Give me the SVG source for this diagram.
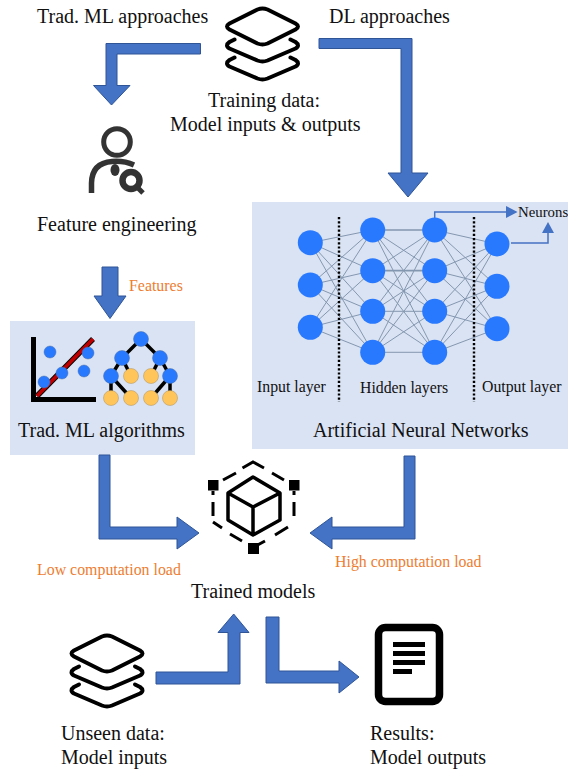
<svg xmlns="http://www.w3.org/2000/svg" width="568" height="769" viewBox="0 0 568 769">
<style>
text{font-family:"Liberation Serif","Times New Roman",serif;fill:#111}
.t{font-size:20px}
.s{font-size:15.8px}
.nl{font-size:14.8px}
.o{font-size:15.9px;fill:#ED7D31}
.panel{fill:#DAE3F3}
.big{fill:#4472C4;stroke:#2F5597;stroke-width:1}
.edge{fill:none;stroke:#8497B0;stroke-width:1}
.thin{fill:none;stroke:#4472C4;stroke-width:1.5}
.tip{fill:#4472C4}
.n{fill:#2979FF}
.dot{fill:none;stroke:#000;stroke-width:2.4;stroke-dasharray:2.2 2}
.ic{fill:none;stroke:#000;stroke-width:4;stroke-linejoin:round;stroke-linecap:round}
.b{fill:#2979FF;stroke:#4a6fa8;stroke-width:.5}
.y{fill:#FFC55A;stroke:#a89060;stroke-width:.5}
</style>
<defs>
<g id="stack" class="ic">
<path d="M-5,-17Q0,-19 5,-17L33,-3Q38,0 33,3L5,17Q0,19 -5,17L-33,3Q-38,0 -33,-3Z"/>
<path d="M-28,13L-33,15.5Q-38,19 -33,22L-5,34Q0,36 5,34L33,22Q38,19 33,15.5L28,13"/>
<path d="M-28,31L-33,33.5Q-38,37 -33,40L-5,52Q0,54 5,52L33,40Q38,37 33,33.5L28,31"/>
</g>
</defs>
<rect id="panel-nn" class="panel" x="252" y="202" width="316" height="247"/>
<rect id="panel-trad" class="panel" x="10" y="321" width="185" height="134"/>
<g id="connectors">
<path class="edge" d="M310.3,242.7L372.7,230M310.3,242.7L372.7,270.7M310.3,242.7L372.7,311.3M310.3,242.7L372.7,352.3M310.3,285L372.7,230M310.3,285L372.7,270.7M310.3,285L372.7,311.3M310.3,285L372.7,352.3M310.3,327.3L372.7,230M310.3,327.3L372.7,270.7M310.3,327.3L372.7,311.3M310.3,327.3L372.7,352.3"/>
<path class="edge" d="M372.7,230L434.7,270.7M372.7,230L434.7,311.3M372.7,230L434.7,352.3M372.7,270.7L434.7,230M372.7,270.7L434.7,311.3M372.7,270.7L434.7,352.3M372.7,311.3L434.7,230M372.7,311.3L434.7,270.7M372.7,311.3L434.7,311.3M372.7,311.3L434.7,352.3M372.7,352.3L434.7,230M372.7,352.3L434.7,270.7M372.7,352.3L434.7,311.3M372.7,352.3L434.7,352.3"/>
<path class="edge" style="stroke-width:1.7" d="M372.7,230H434.7M372.7,270.7H434.7"/>
<path class="edge" d="M434.7,230L497,244M434.7,230L497,286.3M434.7,230L497,328.7M434.7,270.7L497,244M434.7,270.7L497,286.3M434.7,270.7L497,328.7M434.7,311.3L497,244M434.7,311.3L497,286.3M434.7,311.3L497,328.7M434.7,352.3L497,244M434.7,352.3L497,286.3M434.7,352.3L497,328.7"/>
<path class="thin" d="M434.7,218V212H507"/>
<path class="tip" d="M506,206L517.5,212L506,218Z"/>
<path class="thin" d="M511,243H548V233"/>
<path class="tip" d="M542,233L548,222L554,233Z"/>
<path class="big" d="M200.5,43.5H106V85.5H93.5L111.5,105L130,85.5H117V54H200.5Z"/>
<path class="big" d="M319,38.5H412V173H428L408,197L388,173H401V48.5H319Z"/>
<path class="big" d="M102,267H118V296H126L110,318.5L94,296H102Z"/>
<path class="big" d="M99,455H110V527H177V517L199,533L177,549V539H99Z"/>
<path class="big" d="M404,456H415V539H332V549L310,533L332,517V527H404Z"/>
<path class="big" d="M156,672H228V632.5H218L233.7,614L249,632.5H240V684H156Z"/>
<path class="big" d="M266,617H279V671H339V661L359,677L339,693V683H266Z"/>
</g>
<g id="node-training-data">
<use href="#stack" x="262.5" y="26.5"/>
<text class="t" x="264" y="106.7" text-anchor="middle">Training data:</text>
<text class="t" x="170" y="130.700">Model inputs &amp; outputs</text>
</g>
<g id="node-trad-label"><text class="t" x="37" y="23">Trad. ML approaches</text></g>
<g id="node-dl-label"><text class="t" x="329" y="23">DL approaches</text></g>
<g id="node-feature-engineering">
<g fill="none" stroke="#333">
<circle cx="117" cy="142" r="13.3" stroke-width="5"/>
<path d="M91.500,193V183Q92,163 112,161.500Q124,160.500 134,165" stroke-width="5.500"/>
<circle cx="131" cy="180.500" r="8.500" stroke-width="6.500"/>
<path d="M137,187L143,193" stroke-width="5"/>
</g>
<ellipse cx="115" cy="170" rx="4.500" ry="6" fill="#333"/>
<text class="t" x="37" y="230.700">Feature engineering</text>
</g>
<g id="node-features-label"><text class="o" x="129" y="291">Features</text></g>
<g id="node-trad-ml">
<path d="M33.500,337V399.500H96" fill="none" stroke="#000" stroke-width="5"/>
<path d="M37,396L93,339" stroke="#000" stroke-width="5.500" fill="none"/>
<path d="M37,396L93,339" stroke="#C00000" stroke-width="3.800" fill="none"/>
<g class="b"><circle cx="50" cy="352" r="6"/><circle cx="88" cy="353" r="6"/><circle cx="62" cy="373" r="6"/><circle cx="84" cy="371" r="6"/><circle cx="44" cy="382" r="6"/></g>
<path d="M141,339L122,358L111,376M122,358L131,376M141,339L160,358L151,376M160,358L170,376M111,376V398M111,376L131,398M170,376L151,398M170,376V398" fill="none" stroke="#000" stroke-width="3.500"/>
<g class="y"><circle cx="131" cy="376" r="7.500"/><circle cx="151" cy="376" r="7.500"/><circle cx="111" cy="398" r="7.500"/><circle cx="131" cy="398" r="7.500"/><circle cx="151" cy="398" r="7.500"/><circle cx="170" cy="398" r="7.500"/></g>
<g class="b"><circle cx="141" cy="339" r="7.500"/><circle cx="122" cy="358" r="7.500"/><circle cx="160" cy="358" r="7.500"/><circle cx="111" cy="376" r="7.500"/><circle cx="170" cy="376" r="7.500"/></g>
<text class="t" x="18" y="436.700">Trad. ML algorithms</text>
</g>
<g id="node-ann">
<path class="dot" d="M339,217V402M474,217V402"/>
<g class="n">
<circle cx="310.300" cy="242.700" r="12.500"/><circle cx="310.300" cy="285" r="12.500"/><circle cx="310.300" cy="327.300" r="12.500"/>
<circle cx="372.700" cy="230" r="12.500"/><circle cx="372.700" cy="270.700" r="12.500"/><circle cx="372.700" cy="311.300" r="12.500"/><circle cx="372.700" cy="352.300" r="12.500"/>
<circle cx="434.700" cy="230" r="12.500"/><circle cx="434.700" cy="270.700" r="12.500"/><circle cx="434.700" cy="311.300" r="12.500"/><circle cx="434.700" cy="352.300" r="12.500"/>
<circle cx="497" cy="244" r="12.500"/><circle cx="497" cy="286.300" r="12.500"/><circle cx="497" cy="328.700" r="12.500"/>
</g>
<text class="nl" x="518" y="217">Neurons</text>
<text class="s" x="257" y="392">Input layer</text>
<text class="s" x="360" y="393">Hidden layers</text>
<text class="s" x="482" y="392">Output layer</text>
<text class="t" x="313" y="436.700">Artificial Neural Networks</text>
</g>
<g id="node-trained-models">
<path d="M253,477L280,493V520L253,535L228,520V493ZM228,493L253,507L280,493M253,507V535" fill="none" stroke="#000" stroke-width="3.500" stroke-linejoin="round"/>
<path d="M242.500,468L253,462L264,468M272,473L284,480M294,491V495M294,502V516M288,527L275,535M265,541L254,547M242,541L230,534M222,528L213,522M213,516V502M213,495V491M223,480L236,473" fill="none" stroke="#000" stroke-width="3"/>
<rect x="208" y="480" width="10.500" height="10.500"/><rect x="289" y="480" width="10.500" height="10.500"/><rect x="248" y="543" width="11" height="11"/>
<text class="t" x="191" y="597.700">Trained models</text>
</g>
<g id="node-low-load"><text class="o" x="37" y="575">Low computation load</text></g>
<g id="node-high-load"><text class="o" x="335" y="567">High computation load</text></g>
<g id="node-unseen-data">
<use href="#stack" x="107" y="653.500"/>
<text class="t" x="61" y="739.700">Unseen data:</text>
<text class="t" x="61" y="763.700">Model inputs</text>
</g>
<g id="node-results">
<rect x="378.500" y="627.500" width="61" height="74" rx="7" fill="none" stroke="#000" stroke-width="7.500"/>
<path d="M393,642H425V647H393ZM393,651H425V656H393ZM393,660H425V665H393ZM393,669H412V674H393Z"/>
<text class="t" x="370" y="739.700">Results:</text>
<text class="t" x="370" y="763.700">Model outputs</text>
</g>
</svg>
